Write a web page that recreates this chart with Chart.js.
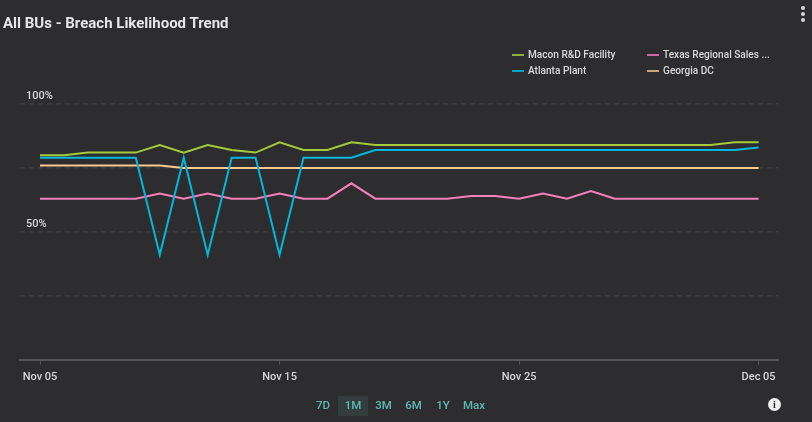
<!DOCTYPE html>
<html>
<head>
<meta charset="utf-8">
<script src="https://cdn.jsdelivr.net/npm/chart.js@4"></script>
<style>
  html, body { margin: 0; padding: 0; background: #2d2d2f; overflow: hidden; }
  body { width: 812px; height: 422px; position: relative; font-family: Roboto, sans-serif; }
  canvas { position: absolute; left: 0; top: 0; }
  .title { position: absolute; left: 3px; top: 14px; font-size: 15px; line-height: 18px; font-weight: 700; color: #e6e6e6; white-space: nowrap; }
  .legend-item { position: absolute; font-size: 10.1px; line-height: 14px; font-weight: 500; color: #d8d8d8; white-space: nowrap; }
  .legend-item i { position: absolute; left: -16px; top: 6px; width: 12px; height: 2px; }
  .range { position: absolute; top: 396px; height: 20px; line-height: 18px; width: 30px; margin-left: -15px; text-align: center; font-size: 11.5px; font-weight: 500; color: #5fb8b4; }
  .range.on { background: #343d3e; }
  .info { position: absolute; left: 768px; top: 398px; width: 13px; height: 13px; border-radius: 50%; background: #eee; color: #2d2d2f; font: 700 10px/13px "Liberation Serif", serif; text-align: center; }
  .dot { position: absolute; left: 801px; width: 4px; height: 4px; border-radius: 50%; background: #d8d8d8; }
</style>
</head>
<body>
<canvas id="myChart" width="812" height="422"></canvas>
<div class="title">All BUs - Breach Likelihood Trend</div>
<div id="legend"></div>
<div id="ranges"></div>
<div class="info">i</div>
<div class="dot" style="top:6px"></div>
<div class="dot" style="top:12px"></div>
<div class="dot" style="top:18px"></div>
<script>
const days = ['Nov 05', 'Nov 06', 'Nov 07', 'Nov 08', 'Nov 09', 'Nov 10', 'Nov 11', 'Nov 12', 'Nov 13', 'Nov 14',
  'Nov 15', 'Nov 16', 'Nov 17', 'Nov 18', 'Nov 19', 'Nov 20', 'Nov 21', 'Nov 22', 'Nov 23', 'Nov 24',
  'Nov 25', 'Nov 26', 'Nov 27', 'Nov 28', 'Nov 29', 'Nov 30', 'Dec 01', 'Dec 02', 'Dec 03', 'Dec 04', 'Dec 05'];
const tick_days = [0, 10, 20, 30];
const y_labels = [100, 50];

const macon = [80, 80, 81, 81, 81, 84, 81, 84, 82, 81, 85, 82, 82, 85, 84, 84, 84, 84, 84, 84, 84, 84, 84, 84, 84, 84, 84, 84, 84, 85, 85];
const atlanta = [79, 79, 79, 79, 79, 41, 79, 41, 79, 79, 41, 79, 79, 79, 82, 82, 82, 82, 82, 82, 82, 82, 82, 82, 82, 82, 82, 82, 82, 82, 83];
const texas = [63, 63, 63, 63, 63, 65, 63, 65, 63, 63, 65, 63, 63, 69, 63, 63, 63, 63, 64, 64, 63, 65, 63, 66, 63, 63, 63, 63, 63, 63, 63];
const georgia = [76, 76, 76, 76, 76, 76, 75, 75, 75, 75, 75, 75, 75, 75, 75, 75, 75, 75, 75, 75, 75, 75, 75, 75, 75, 75, 75, 75, 75, 75, 75];

const ranges = ['7D', '1M', '3M', '6M', '1Y', 'Max'];
const range_x = [323, 353, 383.5, 413.5, 443, 474];

// Convertir una serie en puntos {x, y}
function toPoints(values) {
    return values.map((v, i) => ({ x: i, y: v }));
}

function makeSeries(label, values, color) {
    return {
        label: label,
        data: toPoints(values),
        borderColor: color,
        borderWidth: 2,
        pointRadius: 0,
        tension: 0,
        fill: false
    };
}

const ctx = document.getElementById('myChart').getContext('2d');
const chart = new Chart(ctx, {
    type: 'line',
    data: {
        datasets: [
            makeSeries('Macon R&D Facility', macon, '#a4c93a'),
            makeSeries('Atlanta Plant', atlanta, '#00b8dc'),
            makeSeries('Texas Regional Sales ...', texas, '#f57fb9'),
            makeSeries('Georgia DC', georgia, '#ffc88c')
        ]
    },
    options: {
        responsive: false,
        animation: false,
        devicePixelRatio: 1,
        layout: { padding: { left: 20, right: 34, top: 104, bottom: 32 } },
        plugins: { legend: { display: false }, title: { display: false }, tooltip: { enabled: false } },
        scales: {
            x: {
                type: 'linear',
                min: -0.836,
                max: 30.81,
                afterBuildTicks: function(axis) {
                    axis.ticks = tick_days.map(d => ({ value: d }));
                },
                border: { color: '#555557', width: 2 },
                grid: { drawOnChartArea: false, drawTicks: true, tickLength: 5, color: '#555557' },
                ticks: {
                    autoSkip: false,
                    maxRotation: 0,
                    padding: 6,
                    color: '#d8d8d8',
                    font: { family: 'Roboto', size: 11, weight: '500' },
                    callback: function(value) { return days[value]; }
                }
            },
            y: {
                min: 0,
                max: 100,
                afterFit: function(axis) { axis.width = 0; },
                border: { display: false, dash: [5, 4] },
                grid: { color: '#3c3c3e', lineWidth: 1.5, drawTicks: false },
                ticks: {
                    stepSize: 25,
                    mirror: true,
                    padding: 6,
                    labelOffset: -8,
                    color: '#d8d8d8',
                    font: { family: 'Roboto', size: 11, weight: '500' },
                    callback: function(value) { return y_labels.includes(value) ? value + '%' : ''; }
                }
            }
        }
    }
});

// Leyenda HTML en dos columnas
const legend_cols = [528, 663];
const legend_rows = [48, 64];
const legendColors = ['#8fae3d', '#00a3c4', '#cc6a9e', '#c9a37a'];
chart.data.datasets.forEach(function(ds, i) {
    const el = document.createElement('div');
    el.className = 'legend-item';
    el.style.left = legend_cols[i >> 1] + 'px';
    el.style.top = legend_rows[i % 2] + 'px';
    el.textContent = ds.label;
    const sw = document.createElement('i');
    sw.style.background = legendColors[i];
    el.appendChild(sw);
    document.getElementById('legend').appendChild(el);
});

// Botones de rango
ranges.forEach(function(r, i) {
    const el = document.createElement('div');
    el.className = 'range' + (r === '1M' ? ' on' : '');
    el.style.left = range_x[i] + 'px';
    el.textContent = r;
    document.getElementById('ranges').appendChild(el);
});
</script>
</body>
</html>
